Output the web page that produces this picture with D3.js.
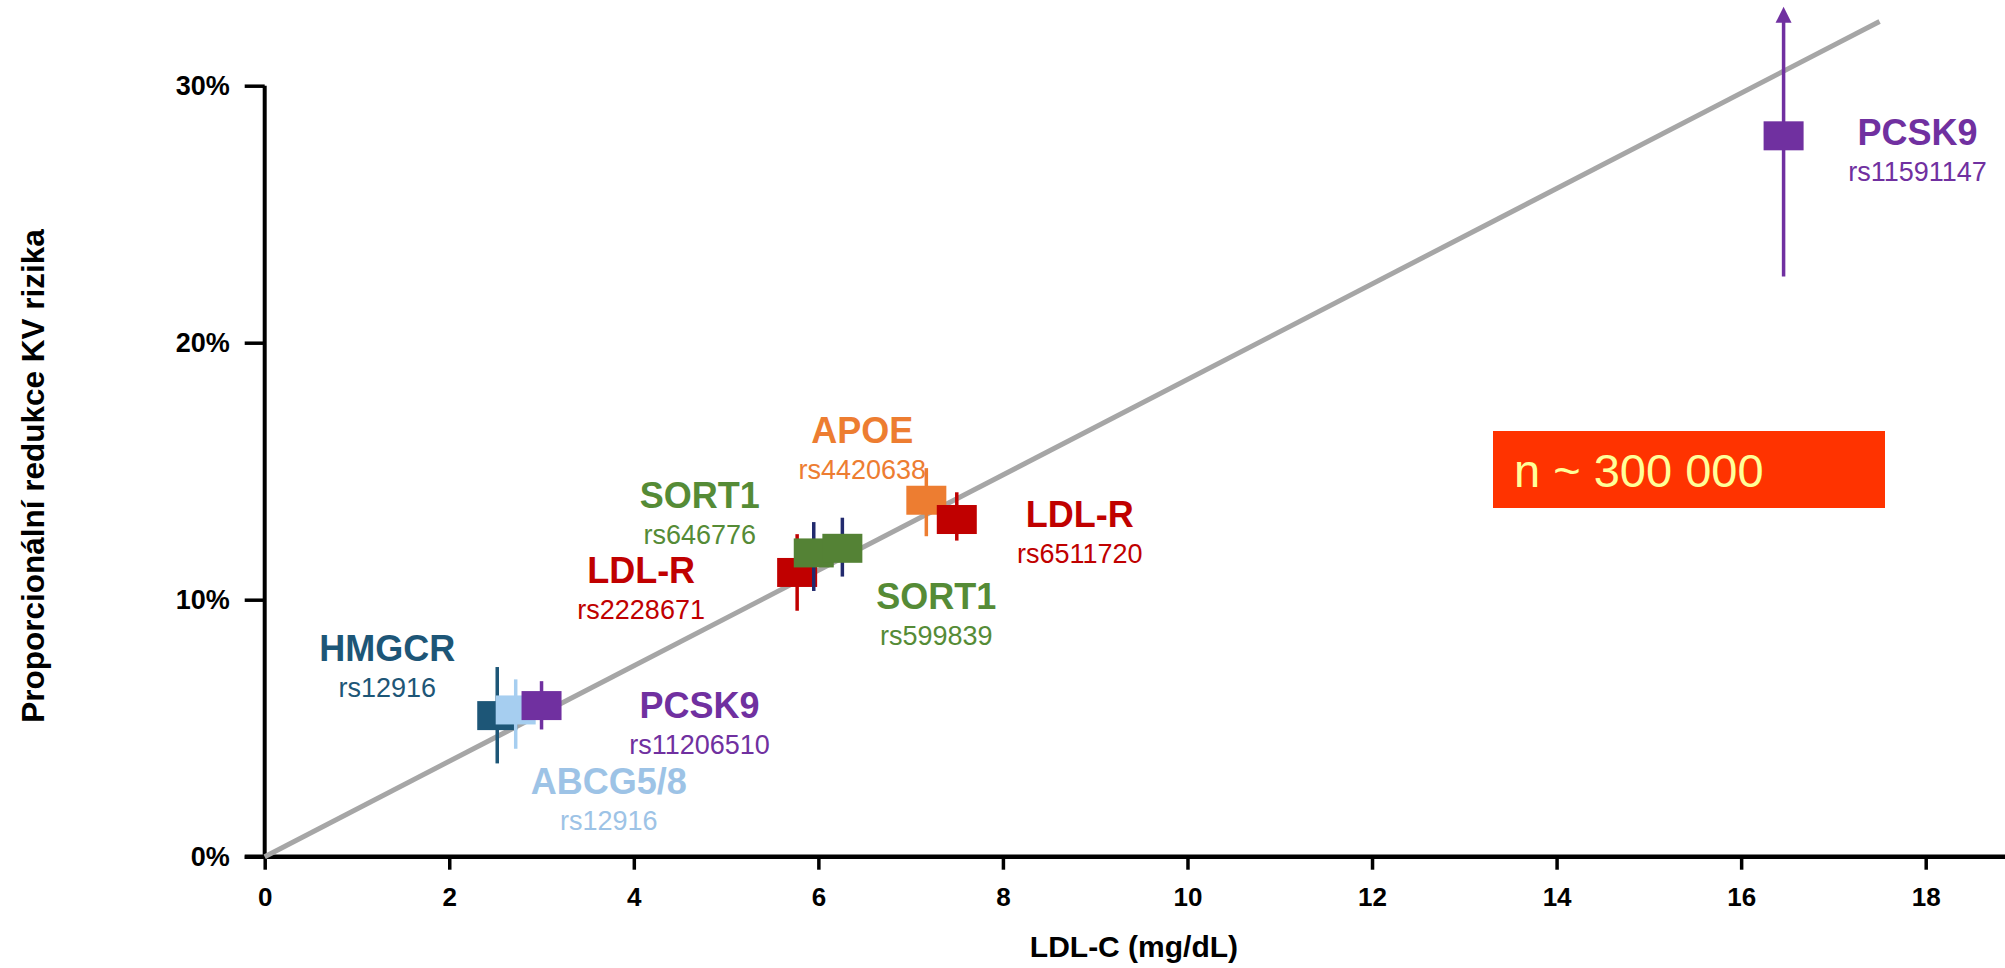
<!DOCTYPE html>
<html>
<head>
<meta charset="utf-8">
<script src="https://cdn.jsdelivr.net/npm/d3@7"></script>
<style>
  html, body { margin: 0; padding: 0; background: #ffffff; }
  svg { display: block; }
  text { font-family: "Liberation Sans", Arial, sans-serif; }
</style>
</head>
<body>
<svg id="chart" width="2005" height="968"></svg>
<script>
// Genetic variants: LDL-C reduction (mg/dL) vs proportional CV risk reduction (%)
const genes   = ["HMGCR", "ABCG5/8", "PCSK9", "LDL-R", "SORT1", "SORT1", "APOE", "LDL-R", "PCSK9"];
const snps    = ["rs12916", "rs12916", "rs11206510", "rs2228671", "rs646776", "rs599839", "rs4420638", "rs6511720", "rs11591147"];
const ldlDrop = [2.52, 2.72, 3.00, 5.77, 5.95, 6.26, 7.17, 7.50, 16.46];
const riskRed = [5.49, 5.71, 5.88, 11.06, 11.82, 12.00, 13.87, 13.12, 28.05];
const ciLow   = [3.63, 4.20, 4.95, 9.57, 10.34, 10.90, 12.47, 12.30, 22.58];
const ciHigh  = [7.38, 6.90, 6.83, 12.55, 13.02, 13.19, 15.12, 14.18, 33.07];
const openUpper = [false, false, false, false, false, false, false, false, true];

const xTickValues = [0, 2, 4, 6, 8, 10, 12, 14, 16, 18];
const yTickValues = [0, 10, 20, 30];
const yTickLabels = ["0%", "10%", "20%", "30%"];

// Fitted line through the origin
const fitX = [0, 17.5];
const fitY = [0, 32.5];

const sampleNote = "n ~ 300 000";

// Styling per variant
const boxColor   = ["#1d5677", "#a6cef0", "#7030a0", "#c00000", "#548235", "#548235", "#ed7d31", "#c00000", "#7030a0"];
const barColor   = ["#1d5677", "#a6cef0", "#7030a0", "#c00000", "#222a6e", "#222a6e", "#ed7d31", "#c00000", "#7030a0"];
const labelColor = ["#1d5677", "#9dc3e6", "#7030a0", "#c00000", "#558b36", "#558b36", "#ed7d31", "#c00000", "#7030a0"];
// Label placement relative to each marker (px): centre x offset, gene-name baseline offset
const labelOffset = [[-110, -55], [93, 84], [158, 12], [-156, 10.5], [-114, -45], [94, 61], [-64, -57.5], [123, 7], [134, 9]];

const W = 2005, H = 968;
const svg = d3.select("#chart");

const x = d3.scaleLinear().domain([0, 18]).range([264.7, 1925.7]);
const y = d3.scaleLinear().domain([0, 30]).range([856.7, 85.7]);

// Y axis ticks and labels
const yAxis = d3.axisLeft(y).tickValues(yTickValues).tickFormat((d, i) => yTickLabels[i]).tickSize(20).tickPadding(15);
const gy = svg.append("g").attr("transform", `translate(${x(0)},0)`).call(yAxis);
gy.select(".domain").remove();
gy.selectAll(".tick line").attr("stroke", "#000").attr("stroke-width", 3.5);
gy.selectAll(".tick text")
  .attr("fill", "#000")
  .style("font-family", "'Liberation Sans', Arial, sans-serif")
  .style("font-weight", "bold")
  .style("font-size", "27px");

// X axis ticks and labels
const xAxis = d3.axisBottom(x).tickValues(xTickValues).tickSize(13);
const gx = svg.append("g").attr("transform", `translate(0,${y(0)})`).call(xAxis);
gx.select(".domain").remove();
gx.selectAll(".tick line").attr("stroke", "#000").attr("stroke-width", 3.5);
gx.selectAll(".tick text")
  .attr("fill", "#000")
  .attr("y", 49).attr("dy", 0)
  .style("font-family", "'Liberation Sans', Arial, sans-serif")
  .style("font-weight", "bold")
  .style("font-size", "26px");

// Axis lines
svg.append("line")
  .attr("x1", x(0)).attr("x2", x(0))
  .attr("y1", y(0)).attr("y2", y(30))
  .attr("stroke", "#000").attr("stroke-width", 4);
svg.append("line")
  .attr("x1", x(0) - 20).attr("x2", W)
  .attr("y1", y(0)).attr("y2", y(0))
  .attr("stroke", "#000").attr("stroke-width", 4.5);

// Axis titles
svg.append("text")
  .attr("x", x(9.42)).attr("y", 957)
  .attr("text-anchor", "middle")
  .style("font-weight", "bold").style("font-size", "30px")
  .text("LDL-C (mg/dL)");
svg.append("text")
  .attr("transform", "translate(44,476) rotate(-90)")
  .attr("text-anchor", "middle")
  .style("font-weight", "bold").style("font-size", "31.5px")
  .text("Proporcionální redukce KV rizika");

// Fitted line
svg.append("line")
  .attr("x1", x(fitX[0])).attr("y1", y(fitY[0]))
  .attr("x2", x(fitX[1])).attr("y2", y(fitY[1]))
  .attr("stroke", "#a6a6a6").attr("stroke-width", 5);

// Markers with confidence intervals
const boxW = 40, boxH = 29;
const pts = genes.map((g, i) => i);
const gp = svg.append("g");
pts.forEach(i => {
  const cx = x(ldlDrop[i]), cy = y(riskRed[i]);
  const top = y(ciHigh[i]);
  if (openUpper[i]) {
    const headLen = 16, headHalf = 8;
    gp.append("line")
      .attr("x1", cx).attr("x2", cx)
      .attr("y1", y(ciLow[i])).attr("y2", top + headLen - 1)
      .attr("stroke", barColor[i]).attr("stroke-width", 3.5);
    gp.append("path")
      .attr("d", `M${cx},${top} L${cx - headHalf},${top + headLen} L${cx + headHalf},${top + headLen} Z`)
      .attr("fill", barColor[i]);
  } else {
    gp.append("line")
      .attr("x1", cx).attr("x2", cx)
      .attr("y1", y(ciLow[i])).attr("y2", top)
      .attr("stroke", barColor[i]).attr("stroke-width", 3.5);
  }
  gp.append("rect")
    .attr("x", cx - boxW / 2).attr("y", cy - boxH / 2)
    .attr("width", boxW).attr("height", boxH)
    .attr("fill", boxColor[i]);
});

// Variant labels
pts.forEach(i => {
  const lx = x(ldlDrop[i]) + labelOffset[i][0];
  const ly = y(riskRed[i]) + labelOffset[i][1];
  svg.append("text")
    .attr("x", lx).attr("y", ly)
    .attr("text-anchor", "middle")
    .attr("fill", labelColor[i])
    .style("font-weight", "bold").style("font-size", "36px")
    .text(genes[i]);
  svg.append("text")
    .attr("x", lx).attr("y", ly + 36)
    .attr("text-anchor", "middle")
    .attr("fill", labelColor[i])
    .style("font-size", "27px")
    .text(snps[i]);
});

// Sample size note
svg.append("rect")
  .attr("x", 1493).attr("y", 431)
  .attr("width", 392).attr("height", 77)
  .attr("fill", "#ff3300");
svg.append("text")
  .attr("x", 1514).attr("y", 487)
  .attr("fill", "#ffff99")
  .style("font-size", "47px")
  .text(sampleNote);
</script>
</body>
</html>
